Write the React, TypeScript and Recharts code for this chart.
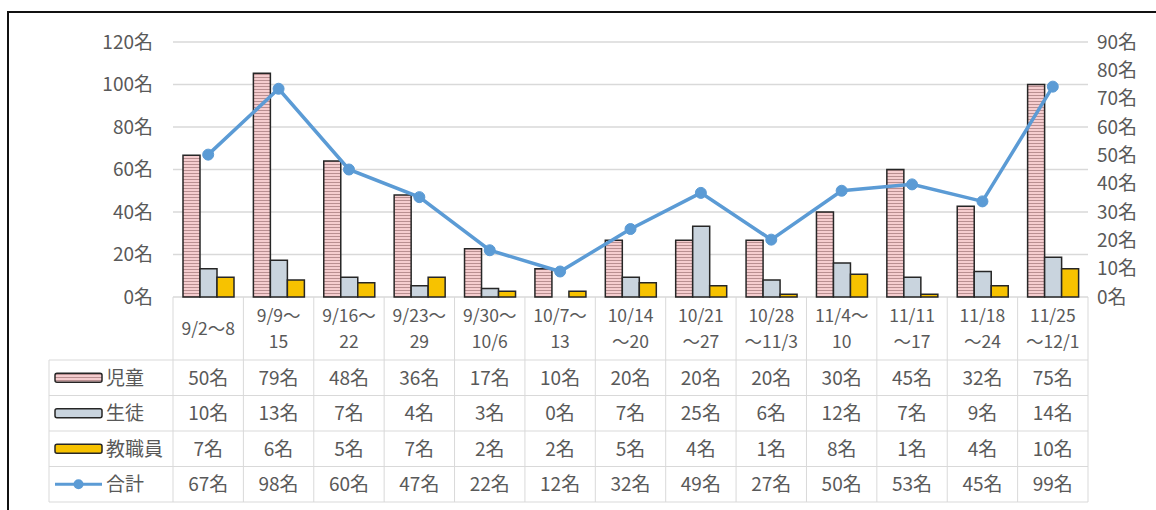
import React from 'react';
import { ComposedChart, Bar, Line, XAxis, YAxis, CartesianGrid } from 'recharts';

const categories = [
  '9/2～8',
  '9/9～\n15',
  '9/16～\n22',
  '9/23～\n29',
  '9/30～\n10/6',
  '10/7～\n13',
  '10/14\n～20',
  '10/21\n～27',
  '10/28\n～11/3',
  '11/4～\n10',
  '11/11\n～17',
  '11/18\n～24',
  '11/25\n～12/1',
];
const jido = [50, 79, 48, 36, 17, 10, 20, 20, 20, 30, 45, 32, 75];
const seito = [10, 13, 7, 4, 3, 0, 7, 25, 6, 12, 7, 9, 14];
const kyoshokuin = [7, 6, 5, 7, 2, 2, 5, 4, 1, 8, 1, 4, 10];
const total = [67, 98, 60, 47, 22, 12, 32, 49, 27, 50, 53, 45, 99];
const leftTicks = [0, 20, 40, 60, 80, 100, 120];
const rightTicks = [0, 10, 20, 30, 40, 50, 60, 70, 80, 90];
const seriesNames = ['児童', '生徒', '教職員', '合計'];
const unit = '名';

const data = categories.map((c, i) => ({
  cat: c,
  jido: jido[i],
  seito: seito[i],
  kyo: kyoshokuin[i],
  total: total[i],
}));

const FONT = '"Noto Sans CJK JP", "Noto Sans", sans-serif';
const TEXT = '#595959';
const GRID = '#d9d9d9';
const FS = 19;
const HFS = 17.5;
const PINK = 'url(#pinkStripes)';
const GRAY = '#c9d4de';
const YELLOW = '#f7c200';
const BLUE = '#5b9bd5';
const EDGE = '#262626';

const HEADER_H = 63;
const ROW_H = 35.5;
const LEGEND_LEFT = 49;

const rowValues = [jido, seito, kyoshokuin, total];

const LegendIcon = ({ kind, x, y }: { kind: number; x: number; y: number }) => {
  if (kind === 3) {
    return (
      <g>
        <line x1={x} x2={x + 47} y1={y} y2={y} stroke={BLUE} strokeWidth={3} />
        <circle cx={x + 23.5} cy={y} r={5} fill={BLUE} />
      </g>
    );
  }
  const fill = kind === 0 ? PINK : kind === 1 ? GRAY : YELLOW;
  return <rect x={x} y={y - 4.5} width={47} height={9} rx={2} fill={fill} stroke={EDGE} strokeWidth={1.5} />;
};

const TableColumn = (props: any) => {
  const { x, y, payload, index, width } = props;
  const n = categories.length;
  const colW = (width || 915) / n;
  const x0 = x - colW / 2;
  const x1 = x + colW / 2;
  const top = y;
  const bottom = top + HEADER_H + ROW_H * 4;
  const lines = String(payload.value).split('\n');
  const els: React.ReactNode[] = [];
  els.push(<line key="vr" x1={x1} x2={x1} y1={top} y2={bottom} stroke={GRID} strokeWidth={1} />);
  if (index === 0) {
    els.push(<line key="vl" x1={x0} x2={x0} y1={top} y2={bottom} stroke={GRID} strokeWidth={1} />);
    els.push(
      <line key="vleg" x1={LEGEND_LEFT} x2={LEGEND_LEFT} y1={top + HEADER_H} y2={bottom} stroke={GRID} strokeWidth={1} />
    );
    for (let r = 0; r <= 4; r++) {
      const ly = top + HEADER_H + r * ROW_H;
      els.push(
        <line key={'h' + r} x1={LEGEND_LEFT} x2={x0 + colW * n} y1={ly} y2={ly} stroke={GRID} strokeWidth={1} />
      );
    }
    seriesNames.forEach((name, r) => {
      const cy = top + HEADER_H + r * ROW_H + ROW_H / 2;
      els.push(<LegendIcon key={'ic' + r} kind={r} x={55} y={cy} />);
      els.push(
        <text key={'ln' + r} x={106} y={cy} dy="0.36em" fontSize={FS} fill={TEXT} fontFamily={FONT}>
          {name}
        </text>
      );
    });
  }
  const headerMid = top + HEADER_H / 2;
  if (lines.length === 1) {
    els.push(
      <text key="hd0" x={x} y={headerMid} dy="0.36em" textAnchor="middle" fontSize={HFS} fill={TEXT} fontFamily={FONT}>
        {lines[0]}
      </text>
    );
  } else {
    lines.forEach((l, k) => {
      els.push(
        <text
          key={'hd' + k}
          x={x}
          y={headerMid + (k === 0 ? -13 : 13)}
          dy="0.36em"
          textAnchor="middle"
          fontSize={HFS}
          fill={TEXT}
          fontFamily={FONT}
        >
          {l}
        </text>
      );
    });
  }
  rowValues.forEach((arr, r) => {
    const cy = top + HEADER_H + r * ROW_H + ROW_H / 2;
    els.push(
      <text key={'v' + r} x={x} y={cy} dy="0.36em" textAnchor="middle" fontSize={FS} fill={TEXT} fontFamily={FONT}>
        {arr[index] + unit}
      </text>
    );
  });
  return <g>{els}</g>;
};

export default function App() {
  return (
    <div
      style={{
        position: 'absolute',
        left: 0,
        top: 0,
        width: 1156,
        height: 510,
        overflow: 'hidden',
        background: '#fff',
      }}
    >
      <svg width={0} height={0} style={{ position: 'absolute' }}>
        <defs>
          <pattern id="pinkStripes" patternUnits="userSpaceOnUse" width={6} height={3}>
            <rect x={0} y={0} width={6} height={3} fill="#f5cdcf" />
            <rect x={0} y={2} width={6} height={1} fill="#b98f91" />
          </pattern>
        </defs>
      </svg>
      <div
        style={{
          position: 'absolute',
          left: 7,
          top: 11,
          width: 1300,
          height: 700,
          borderLeft: '2px solid #111',
          borderTop: '2px solid #111',
        }}
      />
      <div style={{ position: 'absolute', left: 0, top: 0 }}>
        <ComposedChart
          width={1156}
          height={510}
          data={data}
          margin={{ top: 42, right: 8, bottom: 0, left: 113 }}
          barGap={0}
        >
          <CartesianGrid yAxisId="left" vertical={false} stroke={GRID} strokeWidth={1.5} />
          <XAxis
            dataKey="cat"
            height={213}
            axisLine={false}
            tickLine={false}
            tickSize={0}
            tickMargin={0}
            interval={0}
            tick={<TableColumn />}
          />
          <YAxis
            yAxisId="left"
            orientation="left"
            width={60}
            domain={[0, 120]}
            ticks={leftTicks}
            interval={0}
            axisLine={false}
            tickLine={false}
            tickMargin={14}
            tickFormatter={(v: number) => `${v}${unit}`}
            tick={{ fill: TEXT, fontSize: FS, fontFamily: FONT }}
          />
          <YAxis
            yAxisId="right"
            orientation="right"
            width={60}
            domain={[0, 90]}
            ticks={rightTicks}
            interval={0}
            axisLine={false}
            tickLine={false}
            tickMargin={3}
            tickFormatter={(v: number) => `${v}${unit}`}
            tick={{ fill: TEXT, fontSize: FS, fontFamily: FONT }}
          />
          <Bar yAxisId="right" dataKey="jido" name={seriesNames[0]} barSize={17} fill={PINK} stroke={EDGE} strokeWidth={1.5} isAnimationActive={false} />
          <Bar yAxisId="right" dataKey="seito" name={seriesNames[1]} barSize={17} fill={GRAY} stroke={EDGE} strokeWidth={1.5} isAnimationActive={false} />
          <Bar yAxisId="right" dataKey="kyo" name={seriesNames[2]} barSize={17} fill={YELLOW} stroke={EDGE} strokeWidth={1.5} isAnimationActive={false} />
          <Line
            yAxisId="left"
            dataKey="total"
            name={seriesNames[3]}
            stroke={BLUE}
            strokeWidth={3.5}
            dot={{ r: 5.5, fill: BLUE, stroke: BLUE, strokeWidth: 1 }}
            isAnimationActive={false}
          />
        </ComposedChart>
      </div>
    </div>
  );
}
